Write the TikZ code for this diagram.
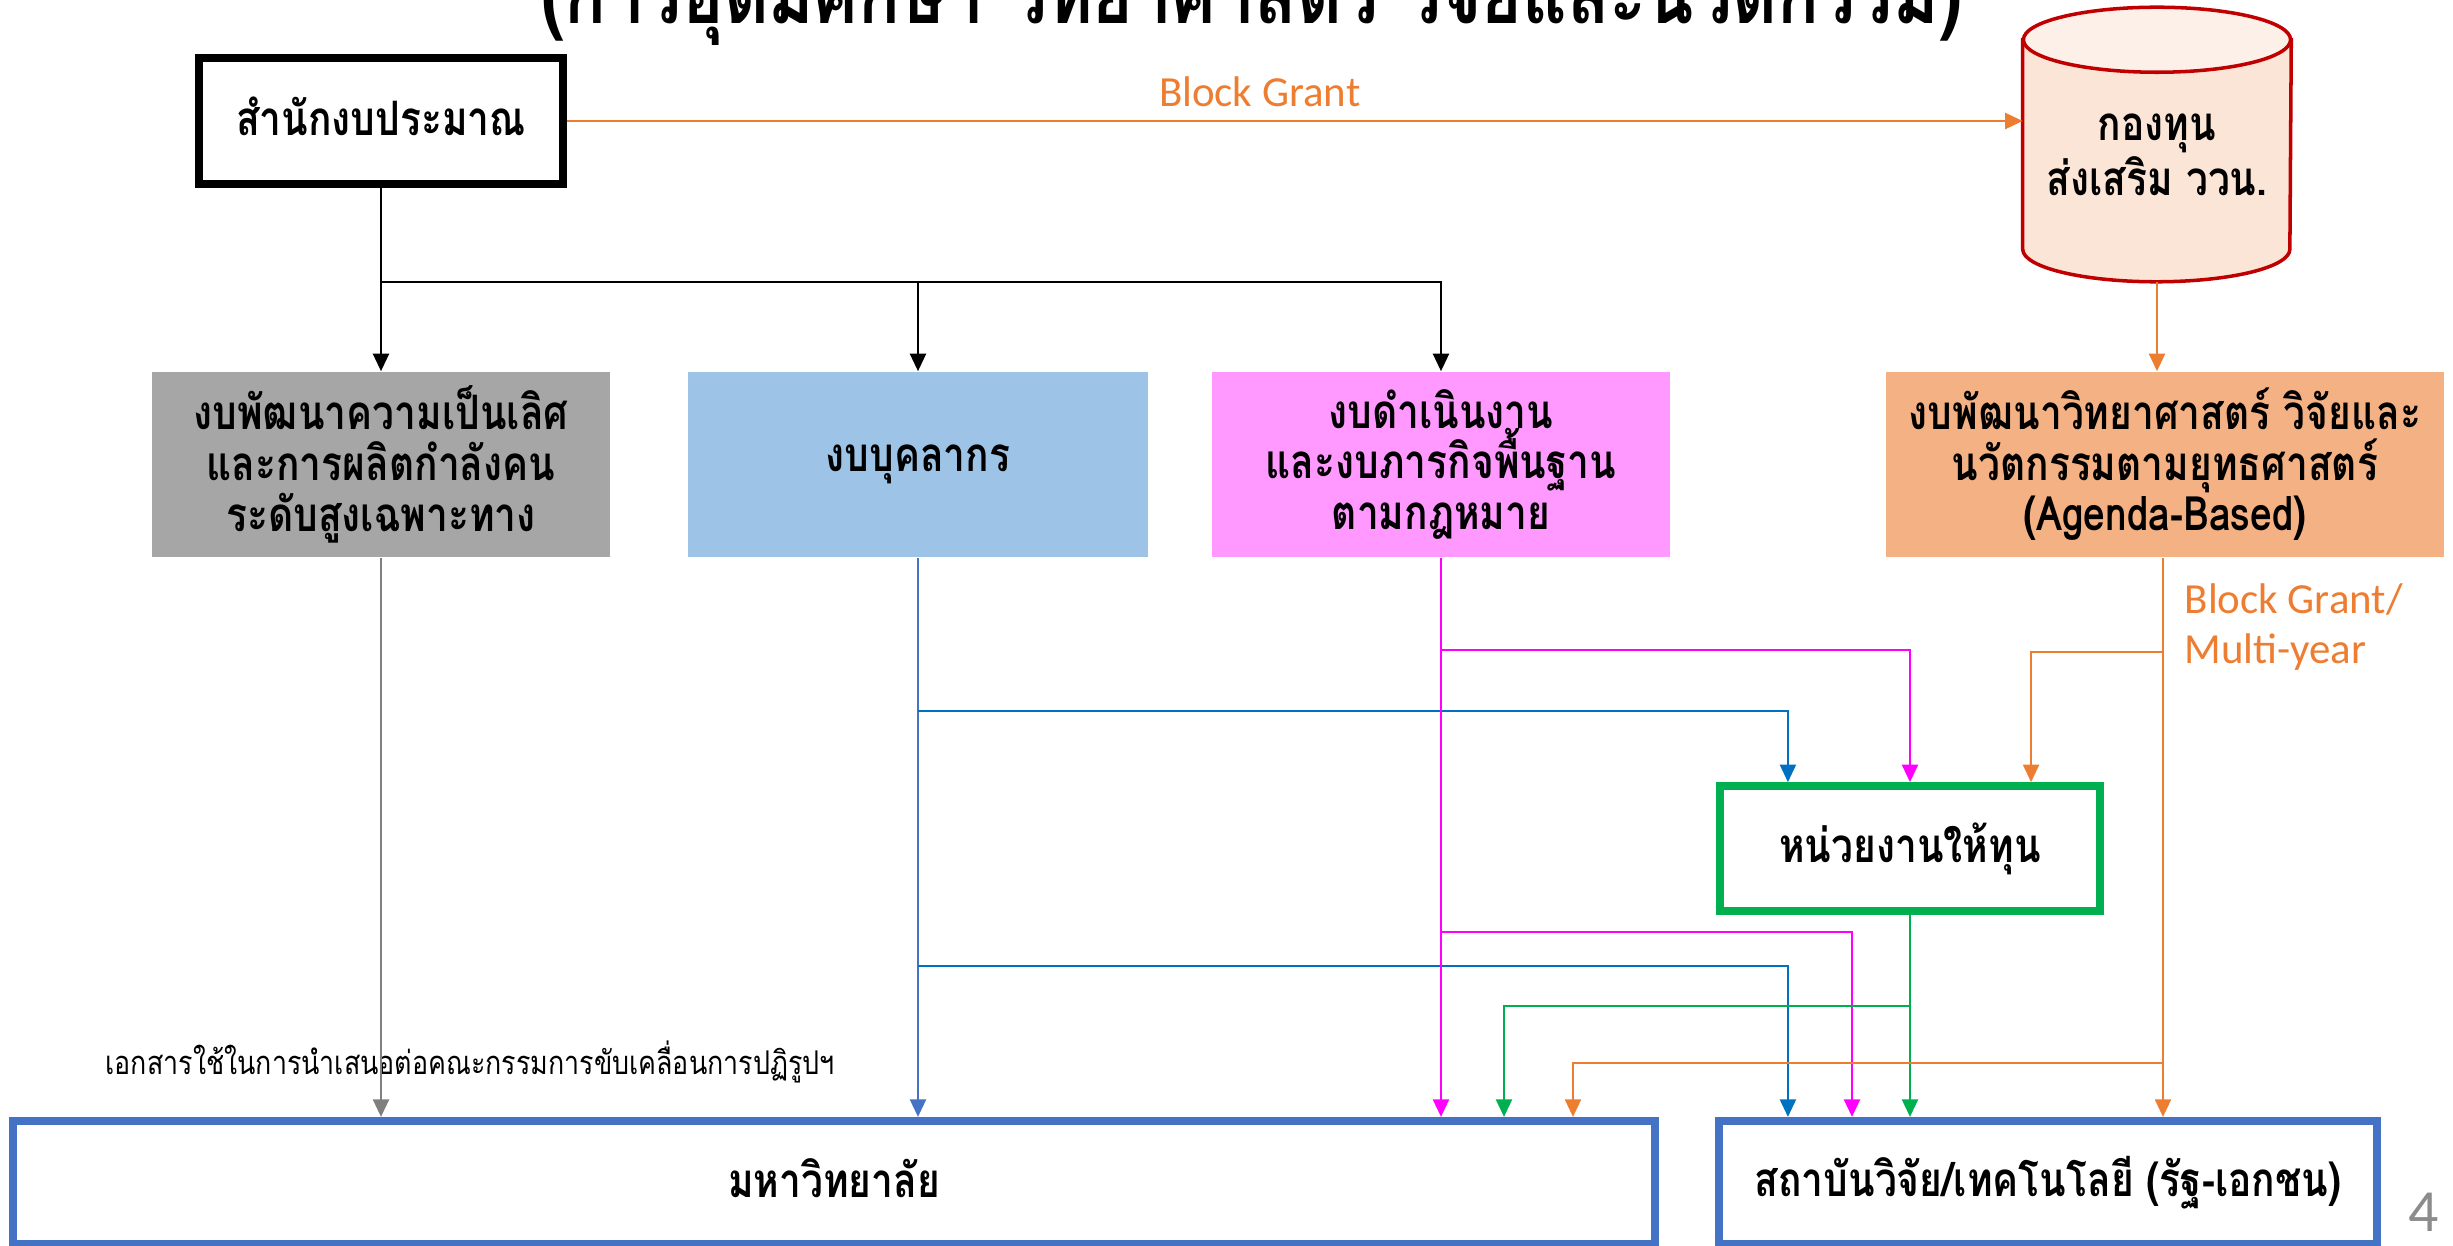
\documentclass[tikz,border=0pt]{standalone}
\usepackage{fontspec}
\usetikzlibrary{arrows.meta,backgrounds}
\newfontfamily\thai{Loma}[Script=Thai, FakeStretch=0.82]
\newfontfamily\lat{Carlito}
\definecolor{ogr}{HTML}{ED7D31}
\definecolor{pnk}{HTML}{FF00FF}
\definecolor{grn}{HTML}{00B050}
\definecolor{blA}{HTML}{4472C4}
\definecolor{blB}{HTML}{0070C0}
\definecolor{gry}{HTML}{7F7F7F}
\definecolor{fillgray}{HTML}{A6A6A6}
\definecolor{fillblue}{HTML}{9DC3E6}
\definecolor{fillpink}{HTML}{FF99FF}
\definecolor{fillorange}{HTML}{F4B183}
\definecolor{cylred}{HTML}{C00000}
\definecolor{cylbody}{HTML}{FBE5D6}
\definecolor{cyltop}{HTML}{FDF0E8}
\definecolor{pgnum}{HTML}{8C8C8C}
\begin{document}
\begin{tikzpicture}[
  x=0.01cm, y=-0.01cm,
  lbl/.style={font=\thai\bfseries\fontsize{13.5}{14.4}\selectfont, align=center, inner sep=0pt, text=black},
  budgetbox/.style={lbl, draw=black, line width=0.08cm, minimum width=3.63cm, minimum height=1.26cm},
  fillbox/.style={lbl, minimum width=4.57cm, minimum height=1.85cm},
  funderbox/.style={lbl, draw=grn, line width=0.075cm, minimum width=3.8cm, minimum height=1.25cm},
  bottombox/.style={lbl, draw=blA, line width=0.08cm, minimum height=1.23cm},
  tip/.style={-{Triangle[width=4.5pt,length=5pt]}},
  conn/.style={line width=0.8pt},
  blkarr/.style={conn, tip, draw=black},
  blkline/.style={conn, draw=black},
  orarr/.style={conn, tip, draw=ogr},
  pinkarr/.style={conn, tip, draw=pnk},
  greenarr/.style={conn, tip, draw=grn},
  bluearr/.style={conn, tip, draw=blA},
  blue2arr/.style={conn, tip, draw=blB},
  grayarr/.style={conn, tip, draw=gry},
  cyl/.style={draw=cylred, line width=1pt},
  orlabel/.style={font=\lat\fontsize{12.2}{14.2}\selectfont, text=ogr, inner sep=0pt, align=left}
]
\useasboundingbox (0,0) rectangle (2453,1246);

% title (partly outside the page, as in the reference)
\node[font=\thai\bfseries\fontsize{24}{26}\selectfont, anchor=base, inner sep=0pt] (title) at (1252,24) {(การอุดมศึกษา วิทยาศาสตร์ วิจัยและนวัตกรรม)};

% nodes
\node[budgetbox] (budget) at (381,121) {\raisebox{0.1cm}{สำนักงบประมาณ}};
\node[minimum width=2.67cm, minimum height=2.73cm, inner sep=0pt] (fund) at (2157,144.5) {};
\node[lbl] (fundlbl) at ([yshift=-0.1cm]fund.center) {กองทุน\\ส่งเสริม ววน.};
\begin{scope}[on background layer]
  \filldraw[cyl, fill=cylbody] ([yshift=-0.325cm]fund.north west) -- ([yshift=0.325cm]fund.south west)
    arc[start angle=180, end angle=360, x radius=1.335cm, y radius=0.325cm]
    -- ([yshift=-0.325cm]fund.north east) -- cycle;
  \filldraw[cyl, fill=cyltop] ([yshift=-0.325cm]fund.north) ellipse [x radius=1.335cm, y radius=0.325cm];
\end{scope}

\node[fillbox, fill=fillgray] (excel) at (381,464.5) {งบพัฒนาความเป็นเลิศ\\และการผลิตกำลังคน\\ระดับสูงเฉพาะทาง};
\node[fillbox, fill=fillblue, minimum width=4.59cm] (staff) at (918,464.5) {งบบุคลากร};
\node[fillbox, fill=fillpink] (oper) at (1441,464.5) {งบดำเนินงาน\\และงบภารกิจพื้นฐาน\\ตามกฎหมาย};
\node[fillbox, fill=fillorange, minimum width=5.57cm] (agenda) at (2165,464.5) {งบพัฒนาวิทยาศาสตร์ วิจัยและ\\นวัตกรรมตามยุทธศาสตร์\\(Agenda-Based)};

\node[funderbox] (funder) at (1910,848.5) {\raisebox{0.05cm}{หน่วยงานให้ทุน}};

\node[bottombox, minimum width=16.42cm] (univ) at (834,1182.5) {\raisebox{0.08cm}{มหาวิทยาลัย}};
\node[bottombox, minimum width=6.58cm] (inst) at (2048,1182.5) {\raisebox{0.08cm}{สถาบันวิจัย/เทคโนโลยี (รัฐ-เอกชน)}};

\node[font=\thai\fontsize{9.3}{10}\selectfont, anchor=west, inner sep=0pt] (note) at (105,1062) {เอกสารใช้ในการนำเสนอต่อคณะกรรมการขับเคลื่อนการปฏิรูปฯ};
\node[font=\lat\fontsize{17}{17}\selectfont, text=pgnum, inner sep=0pt] (pg) at (2424,1212) {4};

% junction coordinates
\coordinate (top) at (381,282);
\coordinate (bA) at (918,711);
\coordinate (bB) at (918,966);
\coordinate (pA) at (1441,650);
\coordinate (pB) at (1441,932);
\coordinate (pBe) at (1852,932);
\coordinate (gA) at (1910,1006);
\coordinate (gAe) at (1504,1006);
\coordinate (oA) at (2163,652);
\coordinate (oB) at (2163,1063);
\coordinate (oBe) at (1573,1063);
\coordinate (fL) at ([xshift=-1.22cm]funder.north);
\coordinate (fR) at ([xshift=1.21cm]funder.north);

% black connectors
\draw[blkline] (budget.south) -- (top);
\draw[blkarr] (top) -- (excel.north);
\draw[blkarr] (top) -| (staff.north);
\draw[blkarr] (top) -| (oper.north);

% block grant
\draw[orarr] (budget.east) -- (budget.east -| fund.west)
  node[pos=0.476, yshift=0.29cm, orlabel] {Block Grant};
\draw[orarr] (fund.south) -- (fund.south |- agenda.north);

% gray
\draw[grayarr] (excel.south) -- (excel.south |- univ.north);

% blue
\draw[bluearr] (staff.south) -- (staff.south |- univ.north);
\draw[blue2arr] (bA) -| (fL);
\draw[blue2arr] (bB) -| (fL |- inst.north);

% pink
\draw[pinkarr] (oper.south) -- (oper.south |- univ.north);
\draw[pinkarr] (pA) -| (funder.north);
\draw[pinkarr] (pB) -| (pBe |- inst.north);

% green
\draw[greenarr] (funder.south) -- (funder.south |- inst.north);
\draw[greenarr] (gA) -| (gAe |- univ.north);

% orange from agenda
\draw[orarr] (oA |- agenda.south) -- (oA |- inst.north);
\draw[orarr] (oA) -| (fR);
\draw[orarr] (oB) -| (oBe |- univ.north);
\node[orlabel, anchor=west] (multi) at (2184,627) {Block Grant/\\Multi-year};

\end{tikzpicture}
\end{document}
